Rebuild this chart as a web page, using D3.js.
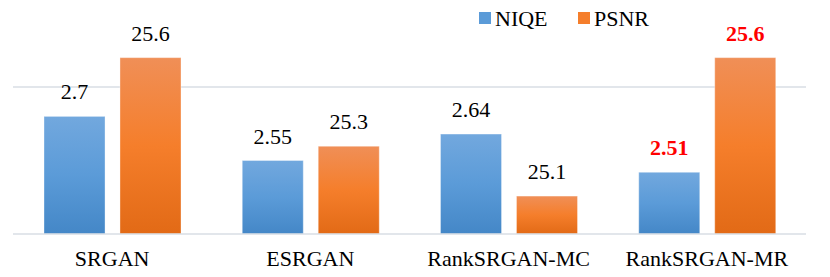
<!DOCTYPE html>
<html>
<head>
<meta charset="UTF-8">
<script src="https://cdn.jsdelivr.net/npm/d3@7"></script>
<style>
  body { margin: 0; }
  svg text { font-family: "Liberation Serif", "Times New Roman", Tinos, FreeSerif, serif !important; }
</style>
</head>
<body>
<script>
const categories = ["SRGAN", "ESRGAN", "RankSRGAN-MC", "RankSRGAN-MR"];
const series = ["NIQE", "PSNR"];
const niqe = [2.7, 2.55, 2.64, 2.51];
const psnr = [25.6, 25.28, 25.1, 25.6];
const niqeLabels = ["2.7", "2.55", "2.64", "2.51"];
const psnrLabels = ["25.6", "25.3", "25.1", "25.6"];
const highlight = [false, false, false, true];
const gridValues = [2.8];

const w = 830, h = 277;
const left = 13, right = 806, base = 234, gridTop = 87;
const fontSize = 22;
const textFont = '"Times New Roman"';

function draw() {
  const svg = d3.select("body").append("svg")
    .attr("width", w).attr("height", h);

  const defs = svg.append("defs");
  const grads = {
    NIQE: ["#72a8de", "#5b9bd8", "#4487c7"],
    PSNR: ["#f08f57", "#f57e2b", "#e26a16"]
  };
  series.forEach(s => {
    const g = defs.append("linearGradient").attr("id", "grad-" + s)
      .attr("x1", 0).attr("y1", 0).attr("x2", 0).attr("y2", 1);
    g.append("stop").attr("offset", "0%").attr("stop-color", grads[s][0]);
    g.append("stop").attr("offset", "50%").attr("stop-color", grads[s][1]);
    g.append("stop").attr("offset", "100%").attr("stop-color", grads[s][2]);
  });

  const x0 = d3.scaleBand().domain(categories).range([left, right]);
  const x1 = d3.scaleBand().domain(series).range([31, 168]).paddingInner(0.197);

  // two value axes (NIQE left, PSNR right), neither drawn
  const yL = d3.scaleLinear().domain([2.3, 2.8]).range([base, gridTop]);
  const yR = d3.scaleLinear().domain([24.963, 25.494]).range([base, gridTop]);

  // gridlines
  svg.append("g").selectAll("line")
    .data(gridValues)
    .enter().append("line")
    .attr("x1", left).attr("x2", right)
    .attr("y1", d => yL(d)).attr("y2", d => yL(d))
    .attr("stroke", "#d9dee5").attr("stroke-width", 1.5);

  const rows = categories.map((c, i) => ({
    cat: c,
    bars: [
      { s: "NIQE", y: yL(niqe[i]), label: niqeLabels[i], hl: highlight[i] },
      { s: "PSNR", y: yR(psnr[i]), label: psnrLabels[i], hl: highlight[i] }
    ]
  }));

  const groups = svg.selectAll("g.cat")
    .data(rows).enter().append("g")
    .attr("class", "cat")
    .attr("transform", d => `translate(${x0(d.cat)},0)`);

  groups.selectAll("rect")
    .data(d => d.bars).enter().append("rect")
    .attr("x", d => x1(d.s))
    .attr("width", x1.bandwidth())
    .attr("y", d => d.y)
    .attr("height", d => base - d.y)
    .attr("fill", d => `url(#grad-${d.s})`)
    .attr("stroke", "rgba(255,255,255,0.35)")
    .attr("stroke-width", 1);

  groups.selectAll("text.val")
    .data(d => d.bars).enter().append("text")
    .attr("class", "val")
    .attr("x", d => x1(d.s) + x1.bandwidth() / 2)
    .attr("y", d => d.y - 17)
    .attr("text-anchor", "middle")
    .style("font-family", textFont)
    .style("font-size", fontSize + "px")
    .style("font-weight", d => d.hl ? "bold" : "normal")
    .attr("fill", d => d.hl ? "#ff0000" : "#000")
    .text(d => d.label);

  // baseline
  svg.append("line")
    .attr("x1", left).attr("x2", right)
    .attr("y1", base).attr("y2", base)
    .attr("stroke", "#d9dee5").attr("stroke-width", 1.5);

  // category labels
  svg.selectAll("text.catlabel")
    .data(categories).enter().append("text")
    .attr("class", "catlabel")
    .attr("x", d => x0(d) + x0.bandwidth() / 2)
    .attr("y", 266)
    .attr("text-anchor", "middle")
    .style("font-family", textFont)
    .style("font-size", fontSize + "px")
    .text(d => d);

  // legend
  const legendX = [479, 578];
  const legend = svg.selectAll("g.legend")
    .data(series).enter().append("g")
    .attr("class", "legend")
    .attr("transform", (d, i) => `translate(${legendX[i]},12)`);
  legend.append("rect")
    .attr("width", 12).attr("height", 12)
    .attr("fill", d => grads[d][1]);
  legend.append("text")
    .attr("x", 16).attr("y", 14)
    .style("font-family", textFont)
    .style("font-size", fontSize + "px")
    .text(d => d);
}

draw();
</script>
</body>
</html>
